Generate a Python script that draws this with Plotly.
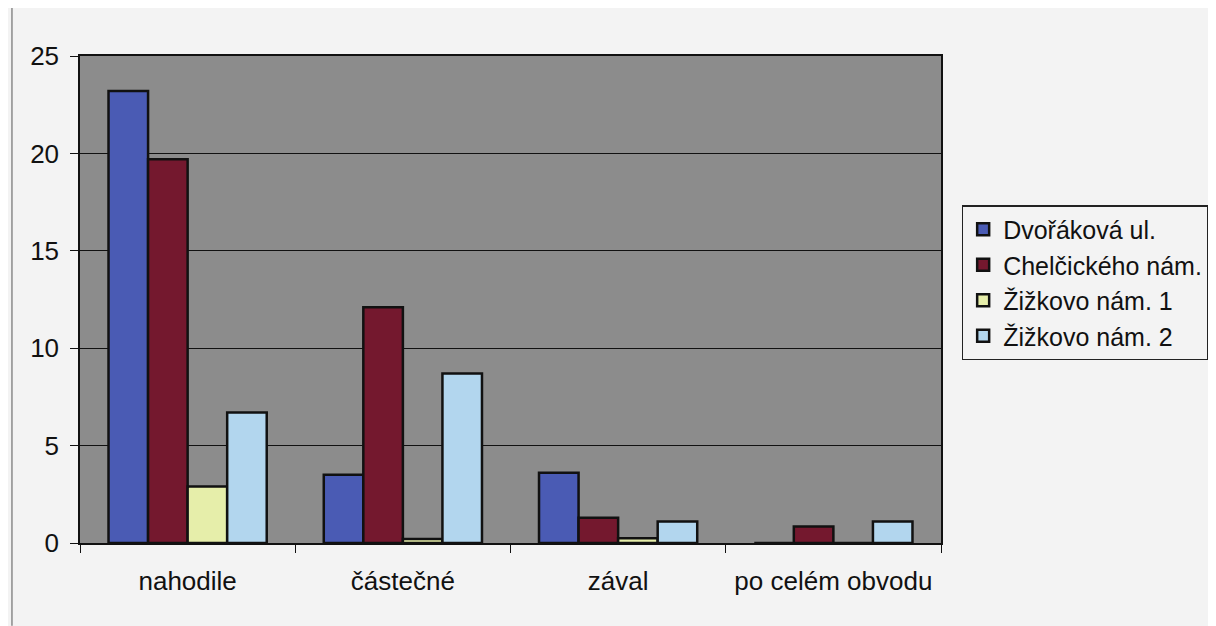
import plotly.graph_objects as go

categories = ["nahodile", "částečné", "zával", "po celém obvodu"]
series_names = ["Dvořáková ul.", "Chelčického nám.", "Žižkovo nám. 1", "Žižkovo nám. 2"]
dvorakova = [23.2, 3.5, 3.6, 0]
chelcickeho = [19.7, 12.1, 1.3, 0.85]
zizkovo1 = [2.9, 0.2, 0.25, 0]
zizkovo2 = [6.7, 8.7, 1.1, 1.1]
colors = ["#4a5bb4", "#74182e", "#e6eeaa", "#b2d6ee"]
y_ticks = [0, 5, 10, 15, 20, 25]

fig = go.Figure()
for name, vals, col in zip(series_names, [dvorakova, chelcickeho, zizkovo1, zizkovo2], colors):
    fig.add_trace(go.Bar(
        x=categories, y=vals, name=name,
        marker=dict(color=col, line=dict(color="#111111", width=2.5)),
    ))

fig.update_layout(
    width=1208, height=618,
    margin=dict(l=72, r=275, t=48, b=83, autoexpand=False),
    paper_bgcolor="#f3f3f3",
    plot_bgcolor="#8c8c8c",
    barmode="group",
    bargap=0.265,
    bargroupgap=0,
    font=dict(family="Liberation Sans, Arial, sans-serif", color="#111111", size=26),
    legend=dict(
        x=1.024, y=0.694, xanchor="left", yanchor="top",
        bgcolor="#f3f3f3", bordercolor="#222222", borderwidth=1.5,
        font=dict(size=25),
        itemwidth=30,
        tracegroupgap=0,
    ),
    showlegend=True,
)
fig.update_xaxes(
    showline=True, linecolor="#111111", linewidth=1.5, mirror=True,
    ticks="outside", tickson="boundaries", ticklen=8, tickcolor="#111111",
    tickfont=dict(size=26), showgrid=False, ticklabelstandoff=14,
)
fig.update_yaxes(
    range=[0, 25], tickvals=y_ticks, showline=True, linecolor="#111111", linewidth=1.5,
    mirror=True, ticks="outside", ticklen=8, tickcolor="#111111",
    showgrid=True, gridcolor="#111111", gridwidth=1.2,
    tickfont=dict(size=26), zeroline=False, ticklabelstandoff=6,
)
fig.add_shape(type="line", xref="paper", yref="paper", x0=-0.079, x1=-0.079, y0=-0.17, y1=1.1,
              line=dict(color="#555555", width=1))

fig.write_html("out.html")
